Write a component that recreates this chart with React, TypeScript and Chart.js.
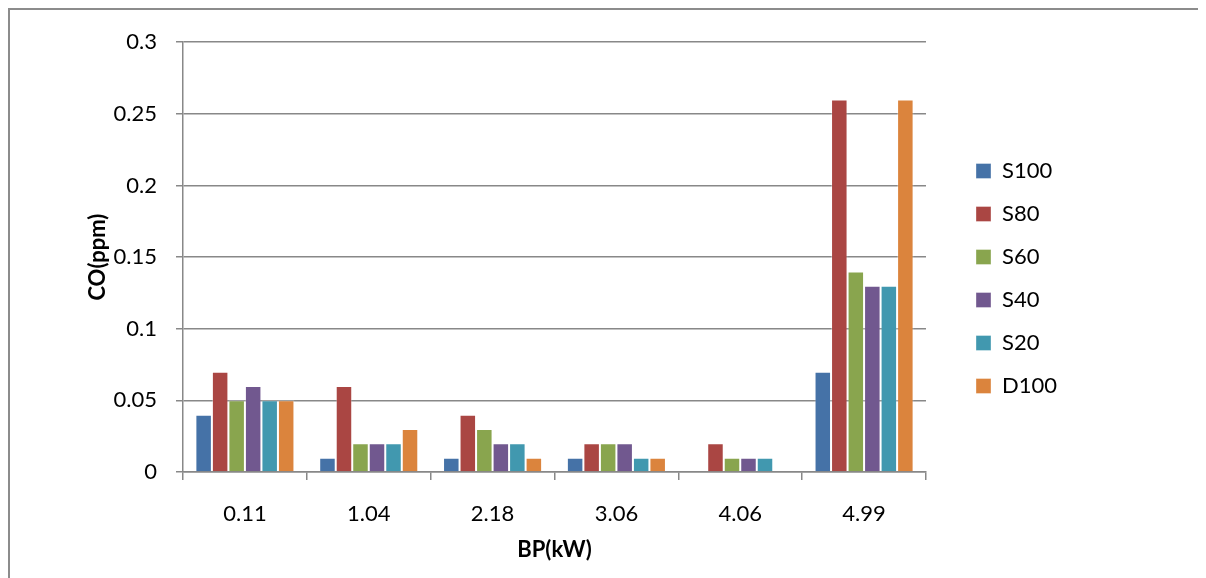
import React, { useEffect, useRef } from 'react';
import { Chart, registerables } from 'chart.js';

Chart.register(...registerables);

const categories = ['0.11', '1.04', '2.18', '3.06', '4.06', '4.99'];
const seriesNames = ['S100', 'S80', 'S60', 'S40', 'S20', 'D100'];
const s100 = [0.04, 0.01, 0.01, 0.01, 0, 0.07];
const s80 = [0.07, 0.06, 0.04, 0.02, 0.02, 0.26];
const s60 = [0.05, 0.02, 0.03, 0.02, 0.01, 0.14];
const s40 = [0.06, 0.02, 0.02, 0.02, 0.01, 0.13];
const s20 = [0.05, 0.02, 0.02, 0.01, 0.01, 0.13];
const d100 = [0.05, 0.03, 0.01, 0.01, 0, 0.26];
const seriesValues = [s100, s80, s60, s40, s20, d100];
const seriesColors = ['#4572A7', '#AA4643', '#89A54E', '#71588F', '#4198AF', '#DB843D'];
const yTickLabels = ['0', '0.05', '0.1', '0.15', '0.2', '0.25', '0.3'];
const xTitle = 'BP(kW)';
const yTitle = 'CO(ppm)';

const FONT = 'Lato, "Liberation Sans", sans-serif';
const GRID = '#888888';

export default function App() {
  const ref = useRef<HTMLCanvasElement | null>(null);

  useEffect(() => {
    if (!ref.current) return;
    const chart = new Chart(ref.current, {
      type: 'bar',
      data: {
        labels: categories,
        datasets: seriesNames.map((name, i) => ({
          label: name,
          data: seriesValues[i],
          backgroundColor: seriesColors[i],
          borderColor: 'rgba(255,255,255,0.35)',
          borderWidth: 1,
          categoryPercentage: 0.8,
          barPercentage: 1.0,
        })),
      },
      options: {
        responsive: false,
        animation: false,
        layout: { padding: { left: 0, top: 27, right: 139, bottom: 0 } },
        plugins: {
          legend: {
            position: 'right',
            align: 'start',
            title: {
              display: true,
              text: ' ',
              font: { family: FONT, size: 10 },
              padding: { top: 90, bottom: 0 },
            },
            labels: {
              boxWidth: 15,
              boxHeight: 15,
              padding: 21,
              color: '#000',
              font: { family: FONT, size: 22 },
            },
          },
          tooltip: { enabled: false },
        },
        scales: {
          x: {
            grid: {
              display: true,
              drawOnChartArea: false,
              drawTicks: true,
              tickLength: 8,
              color: GRID,
              lineWidth: 1.5,
              offset: true,
            },
            border: { display: true, color: GRID, width: 1.5 },
            ticks: {
              color: '#000',
              font: { family: FONT, size: 22 },
              padding: 21,
              maxRotation: 0,
            },
            title: {
              display: true,
              text: xTitle,
              color: '#000',
              font: { family: FONT, size: 22, weight: 'bold' },
              padding: { top: 0, bottom: 15 },
            },
            afterFit: (s: any) => {
              s.height = 106;
            },
          },
          y: {
            min: 0,
            max: 0.3,
            grid: {
              color: GRID,
              lineWidth: 1.5,
              tickLength: 7,
              drawTicks: true,
            },
            border: { display: true, color: GRID, width: 1.5 },
            ticks: {
              stepSize: 0.05,
              color: '#000',
              font: { family: FONT, size: 22 },
              padding: 19,
              callback: (_v: any, idx: number) => yTickLabels[idx],
            },
            title: {
              display: true,
              text: yTitle,
              color: '#000',
              font: { family: FONT, size: 22, weight: 'bold' },
              padding: { top: 75, bottom: 0 },
            },
            afterFit: (s: any) => {
              s.width = 173;
            },
          },
          yR: {
            type: 'linear',
            position: 'right',
            display: true,
            grid: { display: false, drawTicks: false },
            border: { display: false },
            ticks: { display: false },
            afterFit: (s: any) => {
              s.width = 29;
            },
          },
        },
      },
    } as any);
    return () => chart.destroy();
  }, []);

  return (
    <div
      style={{
        width: 1198,
        height: 570,
        boxSizing: 'border-box',
        borderLeft: '2px solid #8c8c8c',
        borderTop: '2px solid #8c8c8c',
        background: '#fff',
        overflow: 'hidden',
      }}
    >
      <canvas ref={ref} width={1196} height={568} style={{ display: 'block' }} />
    </div>
  );
}
